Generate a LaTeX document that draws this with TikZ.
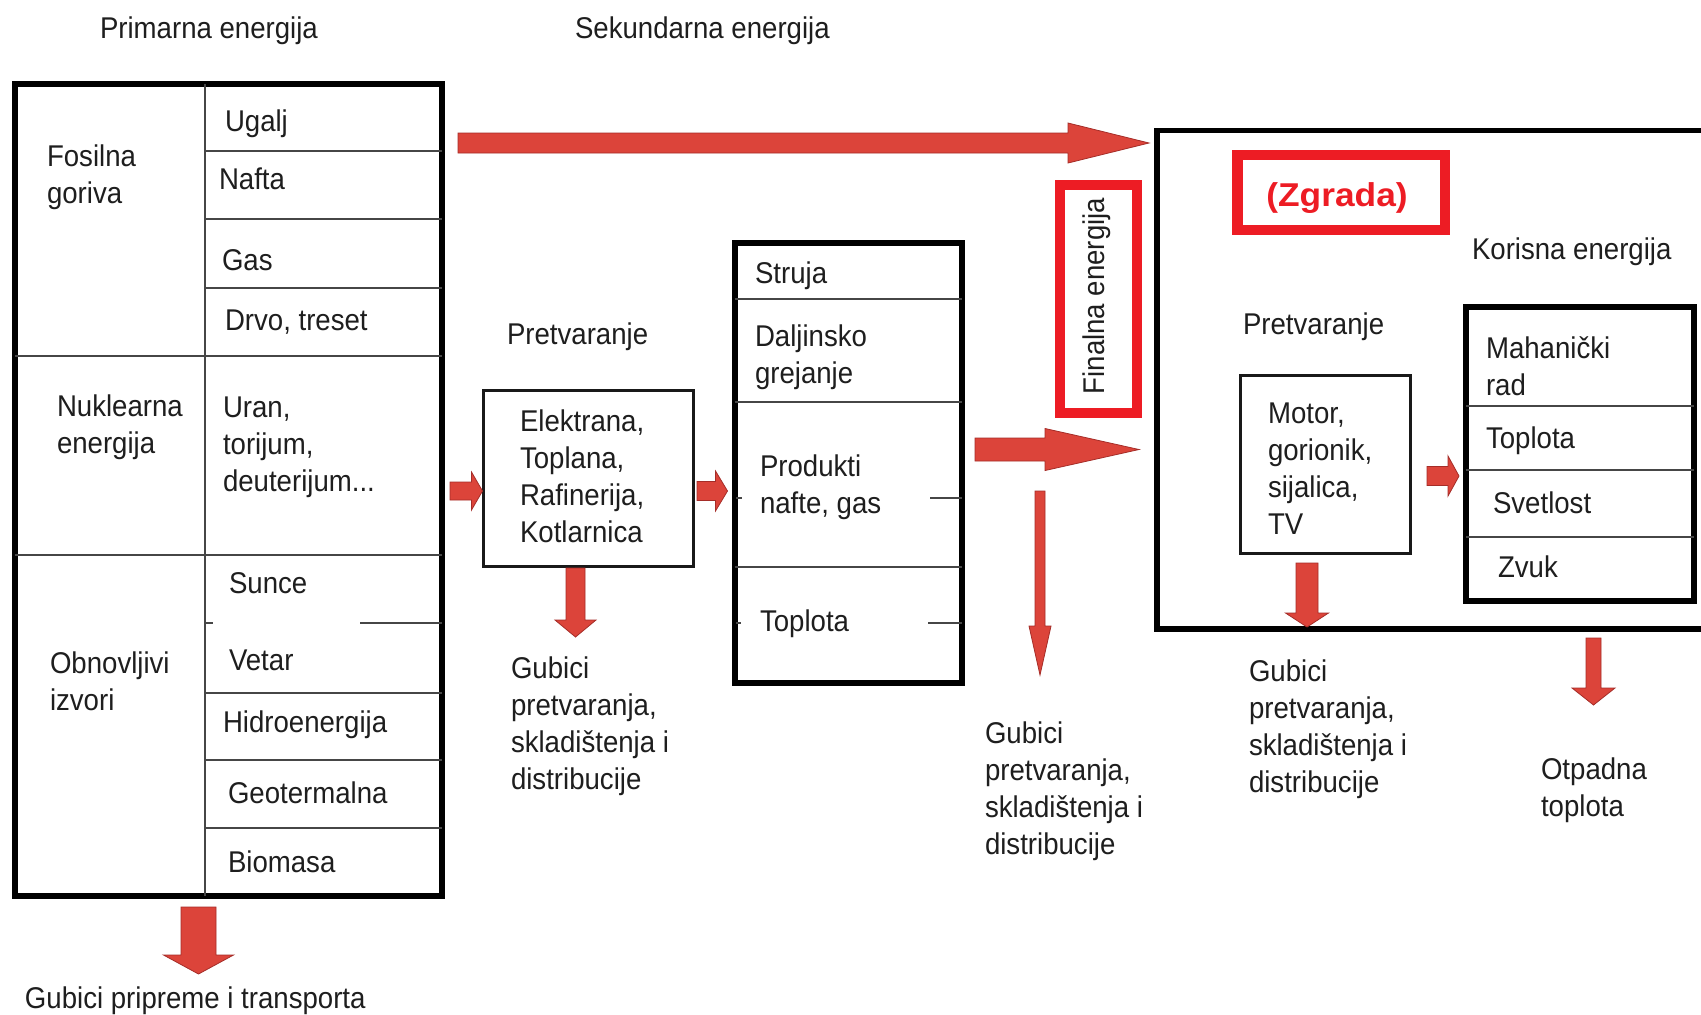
\documentclass[tikz,border=0pt]{standalone}
\usepackage{fontspec}
\setmainfont{Liberation Sans}[FakeStretch=0.92]
\newfontfamily\zgfont{Liberation Sans}[FakeStretch=1.07]
\usetikzlibrary{calc,fit}
\definecolor{txtc}{RGB}{30,30,30}
\definecolor{linec}{RGB}{70,70,70}
\definecolor{arrowfill}{RGB}{220,68,58}
\definecolor{arrowedge}{RGB}{165,45,40}
\definecolor{redbox}{RGB}{237,28,36}
\tikzset{
 txt/.style={inner sep=0pt, outer sep=0pt, anchor=north west, align=left, text=txtc, font=\fontsize{15pt}{18.5pt}\selectfont},
 thickbox/.style={draw=black, line width=3pt, inner sep=0pt, outer sep=0pt},
 medbox/.style={draw=black!90, line width=1.5pt, inner sep=0pt, outer sep=0pt},
 redframe/.style={draw=redbox, line width=5pt, inner sep=0pt, outer sep=0pt},
 tablerule/.style={draw=linec, line width=1.2pt},
 fatarrow/.style={fill=arrowfill, draw=arrowedge, line width=0.4pt, line join=miter},
}
% block arrow pointing right: start, end, shaft half, head half, head length
\newcommand\blockR[5]{\filldraw[fatarrow] ($(#1)+(0,#3)$) -- ($(#2)+(-#5,#3)$) -- ($(#2)+(-#5,#4)$) -- (#2) -- ($(#2)+(-#5,-#4)$) -- ($(#2)+(-#5,-#3)$) -- ($(#1)+(0,-#3)$) -- cycle;}
% block arrow pointing down
\newcommand\blockD[5]{\filldraw[fatarrow] ($(#1)+(#3,0)$) -- ($(#2)+(#3,-#5)$) -- ($(#2)+(#4,-#5)$) -- (#2) -- ($(#2)+(-#4,-#5)$) -- ($(#2)+(-#3,-#5)$) -- ($(#1)+(-#3,0)$) -- cycle;}
\begin{document}
\begin{tikzpicture}[x=0.5pt,y=-0.5pt]
\useasboundingbox (0,0) rectangle (1701,1014);
\fill[white] (0,0) rectangle (1701,1014);
\clip (0,0) rectangle (1701,1014);

% ---------- primary energy table ----------
\node[thickbox, fit={(15,84) (442,896)}] (prim) {};
\draw[tablerule] (205,84) -- (205,896);
\draw[tablerule] (15,356) -- (442,356);
\draw[tablerule] (15,555) -- (442,555);
\foreach \yy in {151,219,288,693,760,828} \draw[tablerule] (205,\yy) -- (442,\yy);
\draw[tablerule] (205,623) -- (213,623);
\draw[tablerule] (360,623) -- (442,623);

\node[txt] (tprim) at (100,17) {Primarna energija};
\node[txt] (tsek) at (575,17) {Sekundarna energija};
\node[txt] (fos) at (47,145) {Fosilna\\goriva};
\node[txt] (ugalj) at (225,110) {Ugalj};
\node[txt] (nafta) at (219,168) {Nafta};
\node[txt] (gas) at (222,250) {Gas};
\node[txt] (drvo) at (225,310) {Drvo, treset};
\node[txt] (nukl) at (57,395) {Nuklearna\\energija};
\node[txt] (uran) at (223,397) {Uran,\\torijum,\\deuterijum...};
\node[txt] (obn) at (50,652) {Obnovljivi\\izvori};
\node[txt] (sunce) at (229,573) {Sunce};
\node[txt] (vetar) at (229,650) {Vetar};
\node[txt] (hidro) at (223,711) {Hidroenergija};
\node[txt] (geo) at (228,782) {Geotermalna};
\node[txt] (bio) at (228,851) {Biomasa};
\node[txt] (gub0) at (25,987) {Gubici pripreme i transporta};

% ---------- conversion 1 ----------
\node[txt] (pretv1) at (507,323) {Pretvaranje};
\node[medbox, fit={(483.5,390.5) (693,566.5)}] (elek) {};
\node[txt] (elektxt) at (520,410) {Elektrana,\\Toplana,\\Rafinerija,\\Kotlarnica};
\node[txt] (gub1) at (511,657) {Gubici\\pretvaranja,\\skladištenja i\\distribucije};

% ---------- secondary energy table ----------
\node[thickbox, fit={(734.5,242.5) (961.5,682.5)}] (sek) {};
\foreach \yy in {299,402,567} \draw[tablerule] (734.5,\yy) -- (961.5,\yy);
\draw[tablerule] (736,498) -- (742,498);
\draw[tablerule] (930,498) -- (961.5,498);
\draw[tablerule] (736,623) -- (741,623);
\draw[tablerule] (928,623) -- (961.5,623);
\node[txt] (struja) at (755,262) {Struja};
\node[txt] (dalj) at (755,325) {Daljinsko\\grejanje};
\node[txt] (prod) at (760,455) {Produkti\\nafte, gas};
\node[txt] (topl1) at (760,610) {Toplota};

% ---------- final energy ----------
\node[redframe, fit={(1060,185) (1137,413)}] (fin) {};
\node[inner sep=0pt, rotate=90, text=txtc, font=\fontsize{15pt}{18.5pt}\selectfont] (fintxt) at (1097,296) {Finalna energija};
\node[txt] (gub2) at (985,722) {Gubici\\pretvaranja,\\skladištenja i\\distribucije};

% ---------- building ----------
\node[draw=black, line width=2.75pt, inner sep=0pt, outer sep=0pt, fit={(1157,130.5) (1720,629)}] (bld) {};
\node[redframe, line width=5.25pt, fit={(1237.5,155) (1445,230)}] (zgbox) {};
\node[anchor=base, inner sep=0pt, text=redbox, font=\zgfont\bfseries\fontsize{16.5pt}{20pt}\selectfont] (zg) at (1337,206) {(Zgrada)};
\node[txt] (kor) at (1472,238) {Korisna energija};
\node[txt] (pretv2) at (1243,313) {Pretvaranje};
\node[medbox, fit={(1240,375) (1410.5,553.5)}] (motor) {};
\node[txt] (motortxt) at (1268,403) {Motor,\\gorionik,\\sijalica,\\TV};
\node[thickbox, fit={(1466,307) (1693.5,601)}] (kbox) {};
\foreach \yy in {406,470,537} \draw[tablerule] (1466,\yy) -- (1693.5,\yy);
\node[txt] (mah) at (1486,337) {Mahanički\\rad};
\node[txt] (topl2) at (1486,427) {Toplota};
\node[txt] (svet) at (1493,492) {Svetlost};
\node[txt] (zvuk) at (1498,556) {Zvuk};
\node[txt] (gub3) at (1249,660) {Gubici\\pretvaranja,\\skladištenja i\\distribucije};
\node[txt] (otp) at (1541,758) {Otpadna\\toplota};

% ---------- arrows ----------
\coordinate (a1s) at (458,143);
\coordinate (a1e) at ($(bld.west |- a1s)+(-8,0)$);
\blockR{a1s}{a1e}{10}{20}{81}

\coordinate (a2s) at (450,491);
\coordinate (a2e) at ($(elek.west |- a2s)+(-1,0)$);
\blockR{a2s}{a2e}{9}{19}{11}

\coordinate (a3s) at (697,491);
\coordinate (a3e) at ($(sek.west |- a3s)+(-7,0)$);
\blockR{a3s}{a3e}{9.5}{20}{12}

\coordinate (a4s) at (575.5,568);
\coordinate (a4e) at (575.5,637);
\blockD{a4s}{a4e}{9.5}{20.5}{17}

\coordinate (a5s) at (975,449.5);
\coordinate (a5e) at (1139,449.5);
\blockR{a5s}{a5e}{11.5}{21}{94}

\coordinate (a6s) at (1040,491);
\coordinate (a6e) at (1040,675);
\blockD{a6s}{a6e}{5}{11}{49}

\coordinate (a7s) at (1307,563);
\coordinate (a7e) at (1307,627);
\blockD{a7s}{a7e}{11}{21.5}{14}

\coordinate (a8s) at (1427,476);
\coordinate (a8e) at (1459,476);
\blockR{a8s}{a8e}{9.5}{20}{11}

\coordinate (a9s) at (1593.5,638);
\coordinate (a9e) at (1593.5,705);
\blockD{a9s}{a9e}{7.5}{21.5}{17}

\coordinate (a0s) at (198.5,907);
\coordinate (a0e) at (198.5,974);
\blockD{a0s}{a0e}{17.5}{35}{19}
\end{tikzpicture}
\end{document}
